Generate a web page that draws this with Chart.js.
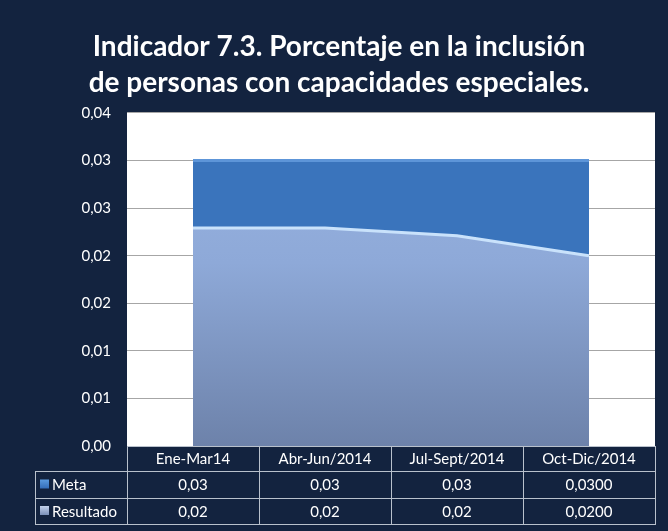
<!DOCTYPE html>
<html>
<head>
<meta charset="utf-8">
<script src="https://cdn.jsdelivr.net/npm/chart.js@4"></script>
<style>
  html, body { margin: 0; padding: 0; background: #13233f; }
  #wrap { width: 668px; height: 531px; }
</style>
</head>
<body>
<div id="wrap"><canvas id="chart"></canvas></div>
<script>
const categories = ['Ene-Mar14', 'Abr-Jun/2014', 'Jul-Sept/2014', 'Oct-Dic/2014']
const metaValues = [0.03, 0.03, 0.03, 0.03]
const resultadoValues = [0.0229, 0.0229, 0.0221, 0.0200]
// decimals used in the data table for each column
const tableDecimals = [2, 2, 2, 4]
const titleLines = ['Indicador 7.3. Porcentaje en la inclusión', 'de personas con capacidades especiales.']

const NAVY = '#13233f'
const FONT = 'Lato, "Open Sans", sans-serif'

function fmt(v, d) {
  const f = Math.pow(10, d)
  return (Math.round(Math.round(v * f * 10) / 10) / f).toFixed(d).replace('.', ',')
}

const backgroundPlugin = {
  id: 'bg',
  beforeDraw(chart) {
    const { ctx, chartArea: a } = chart
    ctx.save()
    ctx.fillStyle = NAVY
    ctx.fillRect(0, 0, chart.width, chart.height)
    ctx.fillStyle = '#ffffff'
    ctx.fillRect(a.left, a.top, a.right - a.left, a.bottom - a.top)
    ctx.restore()
  }
}

// data table under the plot, aligned with the category columns
const tablePlugin = {
  id: 'dataTable',
  afterDraw(chart) {
    const { ctx, chartArea: a } = chart
    const colW = (a.right - a.left) / categories.length
    const rowH = [25, 27, 26]
    const top = a.bottom
    const legendLeft = 35
    const rows = [
      { label: 'Meta', values: metaValues, color: ['#5b9be0', '#2f68b4'] },
      { label: 'Resultado', values: resultadoValues, color: ['#c3d2ec', '#7288b2'] }
    ]
    ctx.save()
    ctx.strokeStyle = '#b9c1cc'
    ctx.lineWidth = 1
    ctx.font = '15px ' + FONT
    ctx.fillStyle = '#ffffff'
    ctx.textBaseline = 'middle'

    // header row
    let y = top
    ctx.strokeRect(a.left + 0.5, y + 0.5, a.right - a.left, rowH[0])
    for (let i = 0; i < categories.length; i++) {
      const x = a.left + i * colW
      if (i > 0) {
        ctx.beginPath(); ctx.moveTo(x + 0.5, y); ctx.lineTo(x + 0.5, y + rowH[0] + rowH[1] + rowH[2]); ctx.stroke()
      }
      ctx.textAlign = 'center'
      ctx.fillText(categories[i], x + colW / 2, y + rowH[0] / 2 + 1)
    }
    y += rowH[0]

    rows.forEach((r, ri) => {
      const h = rowH[ri + 1]
      ctx.strokeRect(legendLeft + 0.5, y + 0.5, a.right - legendLeft, h)
      ctx.beginPath(); ctx.moveTo(a.left + 0.5, y); ctx.lineTo(a.left + 0.5, y + h); ctx.stroke()
      // legend key
      const g = ctx.createLinearGradient(0, y + h / 2 - 5, 0, y + h / 2 + 5)
      g.addColorStop(0, r.color[0])
      g.addColorStop(1, r.color[1])
      ctx.fillStyle = g
      ctx.fillRect(legendLeft + 5, y + h / 2 - 5, 9, 9)
      ctx.fillStyle = '#ffffff'
      ctx.textAlign = 'left'
      ctx.fillText(r.label, legendLeft + 17, y + h / 2 + 1)
      ctx.textAlign = 'center'
      r.values.forEach((v, i) => {
        ctx.fillText(fmt(v, tableDecimals[i]), a.left + i * colW + colW / 2, y + h / 2 + 1)
      })
      y += h
    })
    ctx.restore()
  }
}

const ctx = document.getElementById('chart')

new Chart(ctx, {
  type: 'line',
  data: {
    labels: categories,
    datasets: [
      {
        label: 'Resultado',
        data: resultadoValues,
        order: 1,
        fill: 'origin',
        borderColor: '#c9e2fb',
        borderWidth: 3,
        pointRadius: 0,
        tension: 0,
        backgroundColor: (c) => {
          const area = c.chart.chartArea
          if (!area) return '#8ea9d8'
          const g = c.chart.ctx.createLinearGradient(0, area.top, 0, area.bottom)
          g.addColorStop(0, '#9ab5e2')
          g.addColorStop(0.45, '#8ea9d8')
          g.addColorStop(1, '#6d82aa')
          return g
        }
      },
      {
        label: 'Meta',
        data: metaValues,
        order: 2,
        fill: 'origin',
        borderColor: '#5d95d8',
        borderWidth: 3,
        pointRadius: 0,
        tension: 0,
        backgroundColor: '#3a74bc'
      }
    ]
  },
  options: {
    responsive: true,
    maintainAspectRatio: false,
    animation: false,
    layout: { padding: { left: 23, right: 13, top: 0, bottom: 77 } },
    plugins: {
      legend: { display: false },
      tooltip: { enabled: false },
      title: {
        display: true,
        text: titleLines,
        color: '#ffffff',
        font: { family: FONT, size: 28, weight: 'bold', lineHeight: 1.32 },
        padding: { top: 28, bottom: 11 }
      }
    },
    scales: {
      x: {
        offset: true,
        grid: { display: false },
        border: { display: false },
        ticks: { display: false }
      },
      y: {
        min: 0,
        max: 0.035,
        afterFit(scale) { scale.width = 104 },
        grid: { color: '#a6a6a6', drawTicks: false },
        border: { display: false },
        ticks: {
          stepSize: 0.005,
          padding: 16,
          color: '#ffffff',
          font: { family: FONT, size: 15 },
          callback: (v) => fmt(v, 2)
        }
      }
    }
  },
  plugins: [backgroundPlugin, tablePlugin]
})
</script>
</body>
</html>
